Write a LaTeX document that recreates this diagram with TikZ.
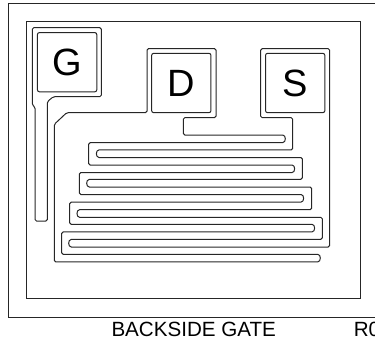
\documentclass[tikz,border=0pt]{standalone}
\usepackage{fontspec}
\setmainfont{Liberation Sans}
\usepackage{tikz}

\tikzset{
  padbox/.style = {shape=rectangle, rounded corners=2pt, draw, minimum size=59.3pt, inner sep=0pt, font=\fontsize{38}{38}\selectfont},
  label/.style = {inner sep=0pt, anchor=base west, font=\fontsize{20.6}{20.6}\selectfont},
  contour/.style = {rounded corners=1.5pt},
}

\begin{document}
\begin{tikzpicture}[x=1pt, y=-1pt, line width=1pt, draw=black!85]
\useasboundingbox (0,0) rectangle (375,343);

% die edge, open to the right
\draw (375,3) -- (8.5,3) -- (8.5,317) -- (375,317);
\draw (26.7,21.3) rectangle (360,298.7);

% pads
\node (gatePad) [padbox] at (67.1,62.2) {G};
\node (drainPad) [padbox] at (181.3,83) {D};
\node (sourcePad) [padbox] at (295.2,83) {S};

% gate
\draw[contour] (32.3,60) -- (32.3,105) -- (35,107) -- (35,221) -- (47.3,221) -- (47.3,101.7) -- (53.3,96.7) -- (101.3,96.7) -- (101.3,27.7) -- (32.3,27.7) -- cycle;

% drain
\draw[contour] (54.3,200) -- (54.3,124.3) -- (66.7,112.7) -- (147,112.7) -- (147,48.7) -- (216,48.7) -- (216,117.7) -- (183.3,117.7) -- (183.3,135)
  -- (281.2,135) .. controls +(5,0) and +(5,0) .. (281.2,142.6) -- (88.7,142.6) -- (88.7,165)
  -- (290.5,165) .. controls +(5,0) and +(5,0) .. (290.5,172.6) -- (79.3,172.6) -- (79.3,194.5)
  -- (299.5,194.5) .. controls +(5,0) and +(5,0) .. (299.5,202.1) -- (69.7,202.1) -- (69.7,224.3)
  -- (310.5,224.3) .. controls +(5,0) and +(5,0) .. (310.5,231.9) -- (61.7,231.9) -- (61.7,254.3)
  -- (316.2,254.3) .. controls +(5,0) and +(5,0) .. (316.2,261.9) -- (54.3,261.9) -- cycle;

% source
\draw[contour] (300,48.7) -- (329.7,48.7) -- (329.7,247)
  -- (72.8,247) .. controls +(-5,0) and +(-5,0) .. (72.8,239.4) -- (322.3,239.4) -- (322.3,217.3)
  -- (81.1,217.3) .. controls +(-5,0) and +(-5,0) .. (81.1,209.7) -- (311.7,209.7) -- (311.7,187)
  -- (90.8,187) .. controls +(-5,0) and +(-5,0) .. (90.8,179.4) -- (302.3,179.4) -- (302.3,157.5)
  -- (100.5,157.5) .. controls +(-5,0) and +(-5,0) .. (100.5,149.9) -- (292.7,149.9) -- (292.7,117.7) -- (260.7,117.7) -- (260.7,48.7) -- cycle;

% captions
\node (backLabel) [label] at (111,336.3) {BACKSIDE GATE};
\node (revLabel) [label] at (353.3,336.3) {R0};
\end{tikzpicture}
\end{document}
